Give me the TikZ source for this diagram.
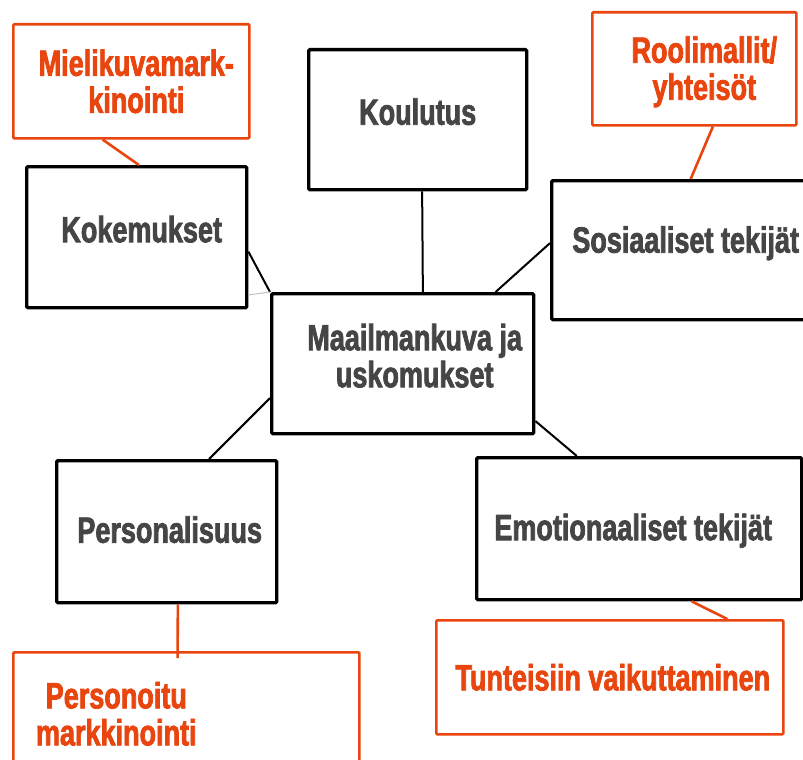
\documentclass[tikz,border=0pt]{standalone}
\usepackage{fontspec}
\usetikzlibrary{calc}
\newfontfamily\impactfont[FakeStretch=0.74,FakeBold=2]{Liberation Sans}
\definecolor{txtgrey}{HTML}{454545}
\definecolor{accent}{HTML}{E8450F}
\begin{document}
\begin{tikzpicture}[x=1pt,y=-1pt,
  blackbox/.style={draw=black,line width=3.4pt,rounded corners=1.2pt,anchor=north west,inner sep=0pt},
  orangebox/.style={draw=accent,line width=2.6pt,rounded corners=1pt,anchor=north west,inner sep=0pt},
  greytext/.style={text=txtgrey,align=center,font=\impactfont\bfseries\fontsize{36.5}{37}\selectfont},
  orangetext/.style={text=accent,align=center,font=\impactfont\bfseries\fontsize{36.5}{37}\selectfont},
  blackline/.style={draw=black,line width=2pt},
  orangeline/.style={draw=accent,line width=2.6pt},
  faintline/.style={draw=black!25,line width=1pt}]
\useasboundingbox (0,0) rectangle (803,760);
\clip (0,0) rectangle (803,760);
\fill[white] (0,0) rectangle (803,760);

% black boxes
\node[blackbox,minimum width=220pt,minimum height=141pt,
  label={[greytext,xshift=5pt,yshift=8pt]center:Kokemukset}] (kok) at (25,165) {};
\node[blackbox,minimum width=218pt,minimum height=140pt,
  label={[greytext,xshift=0pt,yshift=8pt]center:Koulutus}] (kou) at (307,48) {};
\node[blackbox,minimum width=262pt,minimum height=139pt,
  label={[greytext,xshift=3pt,yshift=7pt]center:Sosiaaliset tekijät}] (sos) at (550,179) {};
\node[blackbox,minimum width=262pt,minimum height=140pt,
  label={[greytext,xshift=12pt,yshift=8pt]center:{Maailmankuva ja\\uskomukset}}] (maa) at (270,292) {};
\node[blackbox,minimum width=220pt,minimum height=142pt,
  label={[greytext,xshift=3pt,yshift=2pt]center:Personalisuus}] (per) at (55,459) {};
\node[blackbox,minimum width=325pt,minimum height=142pt,
  label={[greytext,xshift=-6pt,yshift=-2pt]center:Emotionaaliset tekijät}] (emo) at (475,456) {};

% orange boxes
\node[orangebox,minimum width=236pt,minimum height=114pt,
  label={[orangetext,xshift=5pt,yshift=0pt]center:{Mielikuvamark-\\kinointi}}] (mie) at (12,23) {};
\node[orangebox,minimum width=204pt,minimum height=113pt,
  label={[orangetext,xshift=10pt,yshift=-3pt]center:{Roolimallit/\\yhteisöt}}] (roo) at (591,11) {};
\node[orangebox,minimum width=346pt,minimum height=139pt,
  label={[orangetext,xshift=-70pt,yshift=8pt]center:{Personoitu\\markkinointi}}] (pm) at (12,651) {};
\node[orangebox,minimum width=347pt,minimum height=114pt,
  label={[orangetext,xshift=3pt,yshift=0pt]center:Tunteisiin vaikuttaminen}] (tun) at (435,619) {};

% black connectors
\draw[blackline] ($(kok.north east)!0.6!(kok.south east)$) -- (maa.north west);
\draw[faintline] ($(kok.north east)!0.9!(kok.south east)$) -- (maa.north west);
\draw[blackline] ($(kou.south west)!0.52!(kou.south east)$) -- ($(maa.north west)!0.576!(maa.north east)$);
\draw[blackline] ($(sos.north west)!0.45!(sos.south west)$) -- ($(maa.north west)!0.85!(maa.north east)$);
\draw[blackline] ($(maa.north west)!0.74!(maa.south west)$) -- ($(per.north west)!0.69!(per.north east)$);
\draw[blackline] ($(maa.north east)!0.9!(maa.south east)$) -- ($(emo.north west)!0.31!(emo.north east)$);

% orange connectors
\draw[orangeline] ($(mie.south west)!0.38!(mie.south east)$) -- ($(kok.north west)!0.51!(kok.north east)$);
\draw[orangeline] ($(roo.south west)!0.59!(roo.south east)$) -- ($(sos.north west)!0.53!(sos.north east)$);
\draw[orangeline] ($(per.south west)!0.55!(per.south east)$) -- ($($(pm.north west)!0.475!(pm.north east)$)+(0,7)$);
\draw[orangeline] ($(emo.south west)!0.66!(emo.south east)$) -- ($(tun.north west)!0.836!(tun.north east)$);
\end{tikzpicture}
\end{document}
